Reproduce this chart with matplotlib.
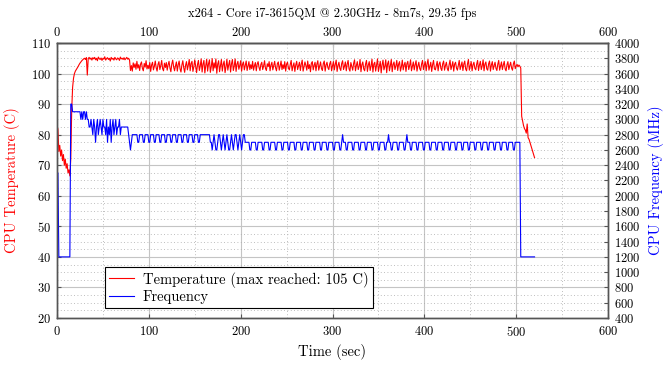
import numpy as np
import matplotlib
matplotlib.use('Agg')
import matplotlib.pyplot as plt
from matplotlib.ticker import MultipleLocator
from matplotlib.lines import Line2D

plt.rcParams['font.family'] = ['cmr10', 'DejaVu Serif']
plt.rcParams['axes.formatter.use_mathtext'] = True
plt.rcParams['mathtext.fontset'] = 'cm'

title = "x264 - Core i7-3615QM @ 2.30GHz - 8m7s, 29.35 fps"
x_label = "Time (sec)"
y_left_label = "CPU Temperature (C)"
y_right_label = "CPU Frequency (MHz)"
legend_labels = ["Temperature (max reached: 105 C)", "Frequency"]

# CPU temperature (C), one sample per second, t = 0 .. 520
temperature_c = [
    75.5, 82.0, 74.5, 76.5, 73.0, 75.0, 71.5, 73.5, 70.0, 72.0, 69.0, 70.5, 67.5, 68.5, 66.5, 72.0, 88.0, 95.5, 98.5, 100.0,
    100.8, 101.3, 101.8, 102.3, 102.9, 103.4, 103.8, 104.2, 104.5, 104.8, 105.0, 104.6, 105.2, 99.5, 104.9, 105.3, 104.7, 105.1, 104.4, 105.2,
    104.8, 105.3, 104.5, 105.0, 104.2, 105.4, 104.9, 104.6, 105.1, 104.3, 105.0, 104.7, 105.5, 104.4, 104.9, 105.2, 104.6, 105.0, 104.1, 105.3,
    104.7, 105.0, 104.4, 105.3, 104.8, 104.5, 105.1, 104.9, 104.3, 105.4, 104.8, 105.0, 104.6, 105.2, 104.5, 104.9, 105.3, 104.7, 105.0, 104.4,
    101.0, 102.6, 100.8, 103.5, 102.0, 103.2, 101.4, 104.0, 101.8, 102.9, 101.0, 103.1, 103.8, 101.7, 100.9, 103.3, 102.1, 104.2, 101.5, 102.7,
    101.6, 103.6, 100.7, 102.8, 103.7, 101.2, 102.4, 104.1, 101.9, 100.8, 103.0, 103.9, 101.3, 102.6, 104.3, 101.6, 100.9, 103.4, 102.0, 103.6,
    101.1, 102.9, 104.0, 101.8, 100.6, 103.1, 104.4, 102.2, 100.9, 102.5, 103.8, 100.8, 102.9, 104.1, 101.5, 100.5, 102.8, 104.2, 101.9, 100.4,
    102.7, 103.9, 101.2, 102.8, 104.6, 100.9, 103.3, 104.0, 100.7, 102.2, 104.5, 102.4, 100.3, 103.0, 104.3, 101.0, 102.5, 104.8, 100.5, 103.1,
    104.3, 100.2, 102.6, 104.7, 100.8, 103.2, 104.5, 100.4, 102.3, 104.9, 100.9, 103.5, 101.8, 104.8, 100.1, 103.1, 104.2, 100.6, 102.7, 104.6,
    100.8, 103.0, 104.1, 100.3, 102.2, 104.7, 101.1, 102.9, 104.3, 100.5, 103.2, 104.6, 101.0, 102.5, 104.8, 100.7, 103.1, 104.0, 101.4, 102.6,
    104.2, 100.8, 103.0, 103.8, 101.2, 102.7, 104.1, 101.0, 102.4, 103.9, 101.3, 102.9, 101.6, 104.0, 101.1, 102.6, 103.6, 100.9, 103.1, 103.9,
    102.0, 101.0, 103.0, 103.7, 101.3, 102.5, 104.2, 101.7, 101.0, 103.2, 102.3, 103.9, 100.9, 102.8, 103.7, 101.2, 102.6, 104.0, 101.9, 100.9,
    103.3, 103.8, 101.1, 102.5, 104.1, 101.3, 102.9, 101.6, 103.9, 100.8, 103.1, 103.7, 101.8, 101.2, 103.0, 104.3, 100.9, 102.4, 103.5, 100.7,
    102.8, 104.0, 101.3, 102.5, 103.7, 101.0, 103.1, 104.4, 100.8, 102.3, 103.8, 102.6, 101.1, 104.1, 101.6, 102.9, 100.6, 103.4, 103.9, 101.2,
    102.7, 103.7, 100.9, 103.1, 104.2, 101.1, 102.4, 103.8, 101.6, 101.0, 103.3, 104.1, 100.8, 102.8, 103.7, 101.9, 101.3, 103.2, 104.0, 100.9,
    102.5, 103.9, 101.2, 103.0, 104.4, 100.7, 102.6, 103.7, 101.7, 101.0, 103.3, 104.2, 101.3, 102.4, 103.8, 100.9, 103.1, 104.3, 101.5, 100.8,
    103.6, 102.4, 101.1, 103.3, 104.5, 100.9, 102.6, 103.9, 101.3, 102.3, 104.6, 100.6, 102.9, 103.8, 101.5, 100.9, 103.1, 104.3, 100.7, 102.8,
    103.9, 101.0, 102.5, 104.7, 100.5, 103.1, 103.7, 100.8, 102.8, 104.8, 100.7, 102.4, 104.0, 100.2, 102.9, 104.4, 101.2, 102.3, 104.5, 100.3,
    103.2, 104.1, 100.9, 102.6, 104.6, 100.6, 103.0, 103.8, 101.3, 102.5, 104.3, 101.0, 103.1, 103.9, 100.8, 102.2, 104.4, 101.2, 102.8, 103.7,
    100.7, 103.2, 104.0, 101.3, 102.6, 104.5, 100.9, 102.3, 103.8, 101.2, 102.9, 104.2, 100.8, 102.5, 103.7, 101.6, 101.0, 103.1, 104.3, 101.3,
    102.8, 103.9, 100.9, 103.2, 104.6, 101.1, 102.4, 103.7, 100.7, 102.9, 104.3, 101.5, 101.2, 102.6, 104.0, 100.9, 103.1, 103.8, 101.7, 101.0,
    103.2, 104.1, 101.1, 102.6, 103.7, 101.6, 100.9, 102.9, 104.4, 101.3, 102.5, 103.9, 100.8, 103.1, 103.7, 101.8, 101.1, 102.8, 104.3, 101.3,
    102.6, 103.8, 101.0, 103.1, 104.1, 101.5, 100.9, 103.2, 104.6, 101.1, 102.5, 103.9, 100.9, 102.9, 103.7, 101.7, 101.2, 103.1, 104.3, 101.0,
    102.8, 104.0, 101.3, 102.5, 104.5, 100.9, 103.1, 103.8, 101.5, 101.1, 103.2, 104.1, 100.8, 102.8, 103.9, 101.3, 102.6, 103.7, 101.7, 101.0,
    103.1, 104.3, 101.1, 102.5, 103.8, 101.3, 102.8, 104.0, 101.5, 100.9, 102.9, 103.9, 101.3, 102.6, 103.7, 101.8, 101.1, 103.2, 104.1, 101.6,
    102.5, 103.0, 102.2, 102.8, 102.4, 101.8, 86.0, 84.5, 83.0, 82.0, 81.5, 80.5, 83.5, 79.0, 78.5, 77.5, 76.5, 75.5, 74.5, 73.5, 72.5,
]

# CPU frequency (MHz), one sample per second, t = 0 .. 520
frequency_mhz = [
    2300, 2300, 1200, 1200, 1200, 1200, 1200, 1200, 1200, 1200, 1200, 1200, 1200, 1200, 1200, 3200, 3200, 3100, 3100, 3100,
    3100, 3100, 3100, 3100, 3100, 3100, 3000, 3100, 3000, 3100, 3100, 3000, 3100, 3000, 3000, 2900, 2900, 3000, 2900, 2800,
    3000, 2900, 2700, 2900, 3000, 2800, 2900, 3000, 2900, 2800, 3000, 2900, 2900, 2800, 3000, 2700, 2900, 2800, 3000, 2700,
    2900, 3000, 2800, 2900, 3000, 2800, 2900, 2900, 3000, 2800, 2900, 2900, 2900, 2900, 2900, 2900, 2900, 2900, 2800, 2700,
    2600, 2700, 2800, 2800, 2800, 2800, 2800, 2800, 2700, 2700, 2800, 2800, 2800, 2800, 2700, 2700, 2800, 2800, 2800, 2800,
    2700, 2700, 2800, 2800, 2800, 2800, 2700, 2700, 2800, 2800, 2800, 2800, 2700, 2700, 2800, 2800, 2800, 2800, 2700, 2700,
    2800, 2800, 2800, 2800, 2700, 2700, 2800, 2800, 2800, 2800, 2700, 2700, 2800, 2800, 2800, 2800, 2700, 2700, 2800, 2800,
    2800, 2800, 2700, 2700, 2800, 2800, 2800, 2800, 2700, 2700, 2800, 2800, 2800, 2800, 2700, 2700, 2800, 2800, 2800, 2800,
    2800, 2800, 2800, 2800, 2800, 2800, 2800, 2700, 2700, 2600, 2700, 2800, 2700, 2600, 2600, 2700, 2800, 2800, 2700, 2600,
    2700, 2800, 2700, 2600, 2700, 2800, 2700, 2600, 2600, 2700, 2800, 2700, 2600, 2700, 2800, 2800, 2700, 2600, 2700, 2800,
    2700, 2600, 2700, 2800, 2800, 2700, 2700, 2700, 2700, 2700, 2600, 2600, 2700, 2700, 2700, 2700, 2700, 2600, 2600, 2700,
    2700, 2700, 2700, 2700, 2600, 2600, 2700, 2700, 2700, 2700, 2700, 2600, 2600, 2700, 2700, 2700, 2700, 2700, 2600, 2600,
    2700, 2700, 2700, 2700, 2700, 2600, 2600, 2700, 2700, 2700, 2700, 2700, 2600, 2600, 2700, 2700, 2700, 2700, 2700, 2600,
    2600, 2700, 2700, 2700, 2700, 2700, 2600, 2600, 2700, 2700, 2700, 2700, 2700, 2600, 2600, 2700, 2700, 2700, 2700, 2700,
    2600, 2600, 2700, 2700, 2700, 2700, 2700, 2600, 2600, 2700, 2700, 2700, 2700, 2700, 2600, 2600, 2700, 2700, 2700, 2700,
    2700, 2600, 2600, 2700, 2700, 2700, 2700, 2700, 2600, 2600, 2700, 2800, 2700, 2700, 2700, 2600, 2600, 2700, 2700, 2700,
    2700, 2700, 2600, 2600, 2700, 2700, 2700, 2700, 2700, 2600, 2600, 2700, 2700, 2700, 2700, 2700, 2600, 2600, 2700, 2700,
    2700, 2700, 2700, 2600, 2600, 2700, 2700, 2700, 2700, 2700, 2600, 2600, 2700, 2700, 2700, 2700, 2700, 2600, 2600, 2700,
    2700, 2800, 2700, 2700, 2600, 2600, 2700, 2700, 2700, 2700, 2700, 2600, 2600, 2700, 2700, 2700, 2700, 2700, 2600, 2600,
    2700, 2800, 2700, 2700, 2700, 2600, 2600, 2700, 2700, 2700, 2700, 2700, 2600, 2600, 2700, 2700, 2700, 2700, 2700, 2600,
    2600, 2700, 2700, 2700, 2700, 2700, 2600, 2600, 2700, 2700, 2700, 2700, 2700, 2600, 2600, 2700, 2700, 2700, 2700, 2700,
    2600, 2600, 2700, 2700, 2700, 2700, 2700, 2600, 2600, 2700, 2700, 2700, 2700, 2700, 2600, 2600, 2700, 2700, 2700, 2700,
    2700, 2600, 2600, 2700, 2700, 2700, 2700, 2700, 2600, 2600, 2700, 2700, 2700, 2700, 2700, 2600, 2600, 2700, 2700, 2700,
    2700, 2700, 2600, 2600, 2700, 2700, 2700, 2700, 2700, 2600, 2600, 2700, 2700, 2700, 2700, 2700, 2600, 2600, 2700, 2700,
    2700, 2700, 2700, 2600, 2600, 2700, 2700, 2700, 2700, 2700, 2600, 2600, 2700, 2700, 2700, 2700, 2700, 2600, 2600, 2700,
    2700, 2700, 2700, 2700, 2700, 1200, 1200, 1200, 1200, 1200, 1200, 1200, 1200, 1200, 1200, 1200, 1200, 1200, 1200, 1200, 1200,
]

assert len(temperature_c) == 521, len(temperature_c)
assert len(frequency_mhz) == 521, len(frequency_mhz)
time_sec = np.arange(len(temperature_c))

x_ticks = [0, 100, 200, 300, 400, 500, 600]
temp_ticks = [20, 30, 40, 50, 60, 70, 80, 90, 100, 110]
freq_ticks = list(range(400, 4001, 200))

fig = plt.figure(figsize=(6.7, 3.65), dpi=100)
ax = fig.add_axes([57 / 670, 47 / 365, 551 / 670, 275 / 365])
ax.set_xlim(0, 600)
ax.set_ylim(20, 110)
ax.set_xticks(x_ticks)
ax.set_yticks(temp_ticks)
ax.xaxis.set_minor_locator(MultipleLocator(50))
ax.yaxis.set_minor_locator(MultipleLocator(2.5))
ax.grid(which='major', color='#c4c4c4', lw=0.8, ls='-')
ax.grid(which='minor', color='#a8a8a8', lw=0.6, ls=(0, (1, 3)))
ax.set_axisbelow(True)

ax.plot(time_sec, temperature_c, color='red', lw=0.8)

ax2 = ax.twinx()
ax2.set_ylim(400, 4000)
ax2.set_yticks(freq_ticks)
ax2.plot(time_sec, frequency_mhz, color='blue', lw=0.8)

top = ax.secondary_xaxis('top')
top.set_xticks(x_ticks)

for a in (ax, ax2, top):
    a.tick_params(which='both', direction='in', length=3, color='#555555',
                  labelsize=9, pad=4)
    a.tick_params(which='minor', length=0)
ax.tick_params(axis='x', pad=5)
top.tick_params(axis='x', pad=3)

for a in (ax, ax2):
    for s in a.spines.values():
        s.set_color('#555555')
        s.set_linewidth(1.0)
for s in top.spines.values():
    s.set_color('#555555')
    s.set_linewidth(1.0)

ax.set_xlabel(x_label, fontsize=10.5, labelpad=4)
ax.set_ylabel(y_left_label, fontsize=10.5, color='red', labelpad=8)
ax2.set_ylabel(y_right_label, fontsize=10.5, color='blue', labelpad=6)

fig.text(332 / 670, 1 - 14 / 365, title, ha='center', va='center', fontsize=9)

handles = [Line2D([], [], color='red', lw=0.8), Line2D([], [], color='blue', lw=0.8)]
leg = ax2.legend(handles, legend_labels, loc='lower left', bbox_to_anchor=(0.087, 0.036),
                 fontsize=10.5, frameon=True, fancybox=False, framealpha=1,
                 edgecolor='black', handlelength=1.7, borderpad=0.3,
                 labelspacing=0.15, handletextpad=0.6, borderaxespad=0)
leg.get_frame().set_linewidth(0.8)

fig.savefig('out.png', dpi=100)
